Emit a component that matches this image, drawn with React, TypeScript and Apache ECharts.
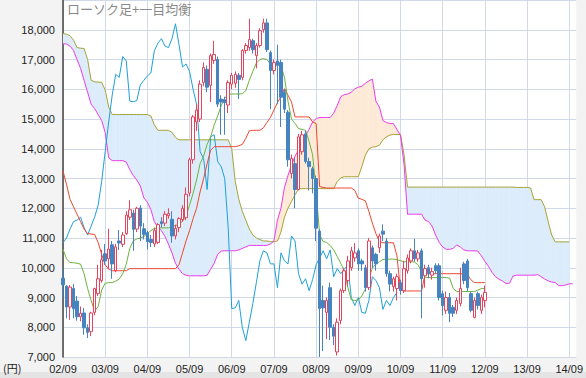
import React, { useEffect, useRef } from 'react';
import * as echarts from 'echarts';

// monthly categories 2002/09 .. 2014/11 (label format yy/mm)
const months: string[] = [];
for (let i = 0; i < 147; i++) {
  const m = ((8 + i) % 12) + 1;
  const y = 2 + Math.floor((8 + i) / 12);
  months.push(`${String(y).padStart(2, '0')}/${String(m).padStart(2, '0')}`);
}

const opens = [9650,9380,8680,9300,8880,8350,8480,7980,7850,8500,9130,9570,10470,10300,10770,9900,10900,10790,11150,11700,11840,11300,12010,11310,11180,10950,10800,10850,11550,11500,11750,11630,11070,11350,11620,11680,12510,13630,14900,15000,16230,16670,16130,16970,17000,15670,15650,15470,16170,16200,16470,16400,17300,17400,17630,17130,17470,18000,18230,17230,16630,16950,16900,15900,15230,13170,13500,12630,13900,14500,13570,13330,13000,11230,8900,8500,9330,8000,7170,8230,9230,9570,10000,10330,10570,10230,10000,9330,10670,10450,10670,11230,10900,9800,9370,9300,9500,9230,9900,10230,10570,10300,10570,9730,10000,9750,10070,10070,9130,8570,9000,8670,8570,8800,10130,10230,9130,8330,9130,8570,8900];
const closes = [9430,8680,9350,8620,8350,8470,7980,7830,8480,9300,9630,10270,10230,10630,10130,10700,10830,11100,11770,11950,11290,12000,11400,11120,10880,10850,11250,11450,11480,11800,11820,11070,11320,11650,12000,12470,13630,15070,15300,16170,16730,16070,17130,17170,15500,15570,15550,16230,16470,16500,16330,17300,17470,17670,17330,17470,17970,18230,17330,16630,16900,16800,15730,15330,13630,13670,12630,14400,14470,13570,13400,13000,11330,8630,8650,8900,8000,7700,8170,9230,9900,10230,10570,10500,10130,10130,9330,10900,10230,10130,11070,11130,9800,9450,9630,9700,9230,9970,10330,10570,10300,10500,9630,9970,9800,9870,9900,9000,8730,9000,8470,8470,8900,9300,9570,9330,8570,8900,8730,9000,9170];
const lows = [9000,8300,8250,8300,8220,8200,7750,7640,7700,8400,9050,9500,10100,9950,9630,9850,10600,10700,11100,11600,10570,11200,10900,10950,10620,10700,10700,10800,11350,11400,11650,10840,10950,11200,11550,11600,12400,13500,14600,14900,16100,15900,15570,16850,15400,14470,14470,15200,16000,16050,15670,16300,17200,17300,17200,16700,17400,17900,17250,15330,16500,15500,14730,15200,13400,13000,12000,12600,13800,13500,12600,12500,10900,7000,7200,7600,7570,7400,7050,8100,9150,9400,9900,10200,9900,9900,9200,9250,10000,9900,10500,10900,9700,9200,9200,8900,9100,9150,9800,10150,10200,10200,8300,9330,9650,9600,9800,8900,8400,8450,8170,8350,8450,8700,9450,9200,8500,8300,8600,8450,8670];
const highs = [9980,9420,9420,9450,9050,8700,8650,8100,8520,9330,10100,10600,10800,11310,10900,10800,11270,11200,11900,12270,11950,12050,12100,11500,11250,11100,11350,11500,11700,11900,12000,11900,11450,11700,12100,12700,13700,15130,15500,16300,16900,16800,17200,17630,17100,15800,15750,16300,16550,16600,16550,17350,17550,18370,17700,17550,18050,18370,18370,17300,17000,17500,17000,16000,15300,13800,13700,14500,14600,14600,13700,13400,13100,11300,9400,9000,9500,8100,8300,9300,10000,10400,10700,10830,10650,10300,10100,11000,10750,10500,11150,11460,11000,9900,9700,9800,9600,10230,10450,10650,10970,10600,10650,10100,10100,10000,10150,10150,9230,9200,9150,8750,9000,10000,10200,10300,9200,9000,9200,9100,9400];

// 転換線 (green)
const tenkan = [10620,10300,10170,10170,10150,10120,9800,9300,8900,8550,8700,9250,9480,9500,9500,9550,9620,9800,10120,10650,10900,10970,11000,11050,11150,11250,11320,11340,11340,11340,11340,11380,11420,11460,11560,11750,12100,12500,12950,13500,13750,14150,14400,14800,15100,15450,15700,15830,15840,15840,15840,15850,15950,16300,16600,16880,17000,17030,17000,16850,16850,16850,16800,16400,15600,15000,14850,14680,14650,14620,14250,13800,12600,11100,10880,10850,10750,10600,10380,10150,9900,9350,8920,8900,8920,9050,9280,9650,9980,10130,10200,10280,10290,10290,10290,10270,10240,10200,10200,10200,10190,10100,9850,9680,9670,9670,9670,9670,9670,9670,9650,9300,9200,9200,9200,9200,9200,9200,9250,9300,9300];
// 基準線 (red)
const kijun = [13250,12800,12300,12050,11800,11550,11300,11150,11130,11120,10850,10450,10100,9950,9900,9900,9900,9900,9900,9970,9970,9970,9970,9970,9970,9970,9970,9970,9970,9970,9970,9970,9970,10100,10500,10900,11250,11650,12000,12550,13000,13500,13950,14070,14070,14070,14070,14070,14070,14070,14100,14150,14350,14600,14620,14620,14620,14700,14880,15050,15300,15550,15750,16020,15800,15570,15070,15070,15070,15070,15070,14900,14850,12730,12700,12680,12680,12680,12680,12680,12680,12680,12680,12600,12340,12300,12250,11900,11500,11150,10880,10840,10840,10840,10840,10400,9250,9220,9220,9220,9220,9220,9220,9800,9800,9800,9800,9800,9800,9800,9800,9800,9800,9800,9790,9780,9600,9500,9500,9500,9500];
// 遅行スパン (cyan)
const chikou = [10840,11000,11300,11550,11600,11700,11350,11100,11400,11700,12100,12900,13900,14900,15800,16500,16400,17100,16950,15600,15580,15620,16150,16300,16450,16550,17300,17550,17700,17450,17400,17700,18200,17500,16750,16850,16600,16000,15500,13900,13670,12630,14400,14470,13570,13400,13000,11330,8630,8650,8900,8000,7550,8170,8800,9500,10230,10570,10500,10130,10130,9330,10500,10230,10130,11070,10900,9800,9450,9630,9230,9600,10100,10330,10570,10300,10600,9700,9970,9800,9950,10100,9000,8730,9000,8500,8470,8900,9700,9570,9330,8600,8900,8730,9000,9170];
// 先行スパンA (magenta)
const spanA = [17530,17520,17450,17300,17000,16700,16300,15900,15500,15350,15150,14950,14550,13700,13600,13600,13600,13600,13550,13300,13100,12950,12750,12350,12200,11950,11550,11350,11250,11050,10800,10500,10150,9950,9800,9750,9730,9730,9730,9730,9730,9750,9950,10150,10450,10560,10570,10570,10570,10570,10600,10650,10700,10750,10750,10750,10750,10750,10750,10800,10900,11600,12000,12700,13100,13450,13750,13950,14250,14450,14650,14900,15010,15050,15050,15050,15050,15200,15450,15750,15820,15840,15900,16010,16070,16100,16200,16280,16340,15600,15400,14950,14880,14850,14840,14650,14450,13500,11800,11800,11800,11800,11800,11600,11550,11400,11100,10850,10700,10620,10620,10650,10770,10700,10600,10570,10570,10570,10560,10400,10220,10050,9850,9700,9620,9550,9470,9480,9720,9750,9750,9750,9750,9750,9750,9770,9700,9620,9560,9520,9500,9400,9400,9420,9460,9460];
// 先行スパンB (olive)
const spanB = [17870,17850,17800,17650,17400,17380,17370,17000,16300,16250,16240,16230,15980,15400,15150,15150,15150,15150,15150,15150,15150,15150,15150,15150,15150,15100,14800,14620,14620,14620,14620,14550,14380,14300,14300,14300,14300,14300,14300,14300,14300,14300,14300,14300,14300,14300,14300,14300,14000,12900,12300,11900,11600,11300,11100,11000,10950,10900,10900,10880,10870,10900,11200,11700,12000,12230,12450,12650,12660,12660,12660,12660,12660,12660,12660,12660,12660,12660,12900,13020,13060,13060,13060,13060,13060,13400,13780,14000,14050,14070,14120,14300,14400,14460,14480,14480,14480,13800,12710,12710,12710,12710,12710,12710,12710,12710,12710,12710,12710,12710,12710,12710,12710,12710,12710,12710,12710,12710,12710,12710,12710,12710,12710,12710,12710,12710,12710,12710,12710,12700,12700,12700,12700,12680,12290,12290,12290,12050,11550,11100,10870,10870,10870,10870,10870];

const BLUE_FILL = '#dcecfb';
const ORANGE_FILL = '#fdead7';

export default function App() {
  const ref = useRef<HTMLDivElement>(null);
  useEffect(() => {
    if (!ref.current) return;
    const chart = echarts.init(ref.current, undefined, { renderer: 'svg' });
    const candles = opens.map((o, i) => [o, closes[i], lows[i], highs[i]]);
    const cloudData: number[][] = [];
    for (let i = 0; i < spanA.length - 1; i++) {
      cloudData.push([i, spanA[i], spanB[i], spanA[i + 1], spanB[i + 1]]);
    }
    const sans = 'Liberation Sans, Arial, sans-serif';
    chart.setOption({
      animation: false,
      backgroundColor: '#f3f3f3',
      grid: { left: 63, right: 6, top: -3, bottom: 21, show: true, backgroundColor: '#ffffff', borderWidth: 0 },
      xAxis: {
        type: 'category',
        data: months,
        boundaryGap: false,
        axisLine: { show: false },
        axisTick: { show: false, interval: 11 },
        axisLabel: { interval: 11, color: '#222', fontSize: 11, fontFamily: sans, margin: 6 },
        splitLine: { show: true, interval: 11, lineStyle: { color: '#d2d9e6', width: 1 } },
      },
      yAxis: {
        type: 'value',
        min: 7000,
        max: 19000,
        interval: 1000,
        axisLine: { show: true, lineStyle: { color: '#444', width: 1.5 } },
        axisTick: { show: false },
        axisLabel: {
          color: '#222', fontSize: 11, fontFamily: sans, margin: 8, showMaxLabel: false,
          formatter: (v: number) => (v >= 19000 ? '' : v.toLocaleString('en-US')),
        },
        splitLine: { show: true, lineStyle: { color: '#d2d9e6', width: 1 } },
      },
      graphic: [
        { type: 'rect', left: 0, top: 372, shape: { width: 586, height: 6 }, style: { fill: '#e4e4e4' }, silent: true },
        { type: 'text', left: 67, top: 2, style: { text: 'ローソク足+一目均衡', fontSize: 13, fill: '#8a8a8a', fontFamily: 'Noto Sans CJK JP' }, z: 100 },
        { type: 'text', left: 3, top: 362, style: { text: '(円)', fontSize: 11, fill: '#222', fontFamily: 'Noto Sans CJK JP' } },
      ],
      series: [
        {
          type: 'custom',
          name: 'cloud',
          silent: true,
          clip: true,
          z: 1,
          encode: { x: 0, y: [1, 2] },
          data: cloudData,
          renderItem: (params: any, api: any) => {
            const i = api.value(0);
            const a0 = api.value(1), b0 = api.value(2), a1 = api.value(3), b1 = api.value(4);
            const pa0 = api.coord([i, a0]);
            const pb0 = api.coord([i, b0]);
            const pa1 = api.coord([i + 1, a1]);
            const pb1 = api.coord([i + 1, b1]);
            const d0 = b0 - a0;
            const d1 = b1 - a1;
            const col = (d: number) => (d >= 0 ? BLUE_FILL : ORANGE_FILL);
            if (d0 * d1 >= 0) {
              const c = col(d0 !== 0 ? d0 : d1);
              return { type: 'polygon', shape: { points: [pa0, pa1, pb1, pb0] }, style: { fill: c, stroke: c, lineWidth: 0.6 } };
            }
            const t = d0 / (d0 - d1);
            const cx = pa0[0] + t * (pa1[0] - pa0[0]);
            const cy = pa0[1] + t * (pa1[1] - pa0[1]);
            return {
              type: 'group',
              children: [
                { type: 'polygon', shape: { points: [pa0, [cx, cy], pb0] }, style: { fill: col(d0), stroke: col(d0), lineWidth: 0.6 } },
                { type: 'polygon', shape: { points: [[cx, cy], pa1, pb1] }, style: { fill: col(d1), stroke: col(d1), lineWidth: 0.6 } },
              ],
            };
          },
        },
        { type: 'line', name: '先行スパンB', data: spanB, symbol: 'none', lineStyle: { color: '#a9a535', width: 1 }, z: 2 },
        { type: 'line', name: '先行スパンA', data: spanA, symbol: 'none', lineStyle: { color: '#ee3cee', width: 1 }, z: 2 },
        { type: 'line', name: '遅行スパン', data: chikou, symbol: 'none', lineStyle: { color: '#1ea0d8', width: 1 }, z: 2 },
        { type: 'line', name: '基準線', data: kijun, symbol: 'none', lineStyle: { color: '#f0462d', width: 1 }, z: 2 },
        { type: 'line', name: '転換線', data: tenkan, symbol: 'none', lineStyle: { color: '#6cb33e', width: 1 }, z: 2 },
        {
          type: 'candlestick',
          name: 'ローソク足',
          data: candles,
          barWidth: 3,
          z: 3,
          itemStyle: { color: '#ffffff', color0: '#4584c1', borderColor: '#e4445c', borderColor0: '#4584c1', borderWidth: 1 },
        },
      ],
    });
    return () => chart.dispose();
  }, []);
  return <div ref={ref} style={{ position: 'fixed', left: 0, top: 0, width: 586, height: 378 }} />;
}
